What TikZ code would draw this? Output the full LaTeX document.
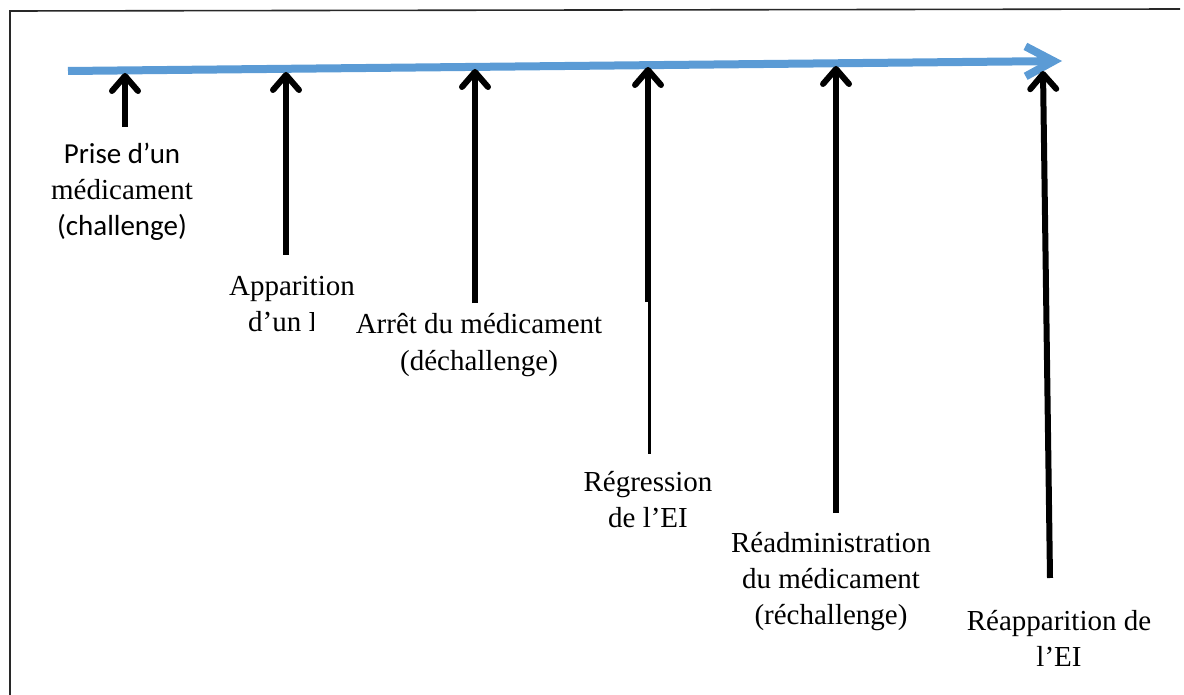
\documentclass[tikz,border=0pt]{standalone}
\usepackage{fontspec}
\setmainfont{Liberation Serif}
\newfontfamily\calfont{Carlito}
\usetikzlibrary{arrows.meta}
\definecolor{tlblue}{RGB}{91,155,213}
\definecolor{framegray}{RGB}{40,40,40}
\begin{document}
\begin{tikzpicture}[x=1pt,y=-1pt,
  lbl/.style={align=center,inner sep=0pt,anchor=base,font=\fontsize{29}{36}\selectfont},
  evt/.style={line width=6pt,-{Straight Barb[length=15pt,width=26pt,round]}},
  thinline/.style={line width=3pt},
  timeline/.style={draw=tlblue,line width=8pt,-{Straight Barb[length=28pt,width=30pt]}},
  frameline/.style={draw=framegray,line width=1.6pt}]
\useasboundingbox (0,0) rectangle (1184,695);
% frame
\draw[frameline] (10,695) -- (10,11) -- (1180,9);
% timeline
\coordinate (ts) at (68,71);
\coordinate (te) at (1062,61);
\draw[timeline] (ts) -- (te);
% event arrows
\coordinate (b1) at (125,127); \coordinate (a1) at (125,73);
\coordinate (b2) at (286,255); \coordinate (a2) at (286,72);
\coordinate (b3) at (475,303); \coordinate (a3) at (475,69);
\coordinate (b4) at (648,302); \coordinate (a4) at (648,67);
\coordinate (c4) at (649.5,454);
\coordinate (b5) at (836,513); \coordinate (a5) at (836,66);
\coordinate (b6) at (1050,578); \coordinate (a6) at (1043,71);
\draw[evt] (b1) -- (a1);
\draw[evt] (b2) -- (a2);
\draw[evt] (b3) -- (a3);
\draw[evt] (b4) -- (a4);
\draw[thinline] (b4) ++(1.5,0) coordinate (b4r) -- (c4);
\draw[evt] (b5) -- (a5);
\draw[evt] (b6) -- (a6);
% labels (base anchor = baseline of the last line)
\node[lbl] (l1) at (122,236) {{\calfont Prise d’un}\\médicament\\{\calfont (challenge)}};
\node[lbl] (l2) at (292,295) {Apparition};
\begin{scope}
  \clip (0,0) rectangle (313,695);
  \node[lbl] (l2b) at (292,331) {d’un EI};
\end{scope}
\node[lbl] (l3) at (479,370) {Arrêt du médicament\\(déchallenge)};
\node[lbl] (l4) at (648,527) {Régression\\de l’EI};
\node[lbl] (l5) at (831,624) {Réadministration\\du médicament\\(réchallenge)};
\node[lbl] (l6) at (1059,666) {Réapparition de\\l’EI};
\end{tikzpicture}
\end{document}
